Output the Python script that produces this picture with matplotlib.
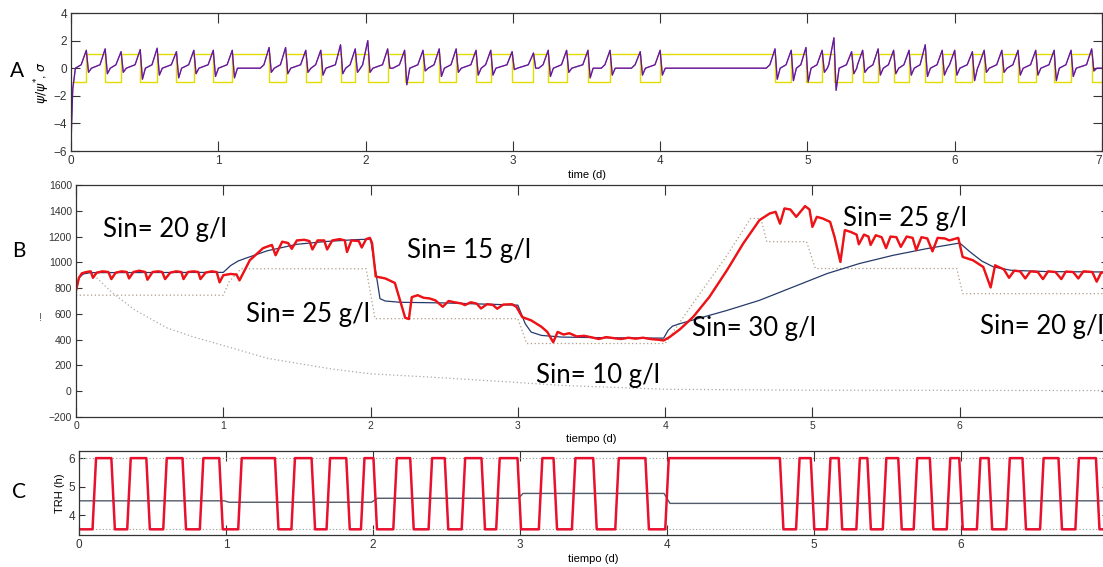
import matplotlib.pyplot as plt
import numpy as np

W, H = 1103, 567

# relay switching instants (d); the state starts low (sigma=-1, TRH=3.5 h)
switch_t = [0.104, 0.232, 0.34, 0.47, 0.585, 0.716, 0.834, 0.966, 1.095, 1.345,
            1.457, 1.594, 1.696, 1.83, 1.93, 2.015, 2.15, 2.265, 2.39, 2.50,
            2.615, 2.75, 2.85, 2.995, 3.14, 3.24, 3.365, 3.51, 3.66, 3.865,
            4.0, 4.78, 4.89, 4.99, 5.10, 5.18, 5.30, 5.375, 5.48, 5.585,
            5.69, 5.80, 5.915, 6.0, 6.12, 6.20, 6.32, 6.43, 6.55, 6.675,
            6.79, 6.93]

# psi/psi* peak at each switch and the trough right after it
psi_peak = [1.3, 1.4, 1.2, 1.35, 1.45, 1.2, 1.3, 1.3, 1.3, 1.5,
            1.5, 1.3, 1.3, 1.7, 1.4, 2.0, 1.4, 1.3, 1.3, 1.4,
            1.4, 1.3, 1.3, 1.2, 1.1, 1.3, 1.3, 1.3, 1.3, 1.2,
            1.3, 1.4, 1.3, 1.5, 1.3, 2.2, 1.2, 1.3, 1.4, 1.3,
            1.3, 1.7, 1.3, 1.3, 1.2, 1.3, 1.3, 1.3, 1.3, 1.3,
            1.3, 1.4]
psi_trough = [-0.3, -0.4, -0.3, -0.8, -0.5, -0.7, -0.4, -0.6, -0.7, -0.3,
              -0.4, -0.3, -0.5, -0.4, -0.3, -0.3, 0.0, -1.2, -0.2, -0.6,
              -0.3, -0.5, -0.5, -0.1, 0.0, -0.6, -0.3, -0.7, -0.5, -0.5,
              -0.5, -0.8, -0.9, -1.0, -0.3, -1.6, -0.4, -0.3, -0.5, -0.4,
              -0.5, -0.6, -0.5, -0.5, -0.9, -0.3, -0.3, -0.5, -0.5, -0.9,
              -0.6, -0.2]
psi_start_t = [0.0, 0.004, 0.012, 0.03]
psi_start_v = [-6.0, -4.0, -1.5, 0.0]

trh_low, trh_high = 3.5, 6.0
trh_mean_t = [0, 0.99, 1.02, 1.99, 2.03, 2.99, 3.02, 3.98, 4.02, 5.99, 6.02, 7.0]
trh_mean_v = [4.50, 4.50, 4.45, 4.45, 4.59, 4.59, 4.76, 4.76, 4.41, 4.41, 4.50, 4.50]

# panel B: measured (red), model (blue), bounds (dotted)
meas_t = [0.0, 0.02, 0.04, 0.07, 0.10, 0.115, 0.14, 0.18, 0.22, 0.24, 0.27, 0.31,
          0.345, 0.36, 0.39, 0.43, 0.47, 0.485, 0.52, 0.56, 0.585, 0.605, 0.64,
          0.68, 0.715, 0.73, 0.76, 0.80, 0.83, 0.845, 0.88, 0.92, 0.955, 0.975,
          1.0, 1.05, 1.09, 1.11, 1.18, 1.27, 1.33, 1.355, 1.40, 1.44, 1.465,
          1.50, 1.55, 1.585, 1.605, 1.64, 1.685, 1.705, 1.74, 1.79, 1.825, 1.84,
          1.87, 1.92, 1.94, 1.97, 1.995, 2.01, 2.035, 2.10, 2.165, 2.20, 2.235,
          2.26, 2.28, 2.32, 2.36, 2.40, 2.44, 2.49, 2.53, 2.57, 2.62, 2.64, 2.68,
          2.72, 2.75, 2.79, 2.83, 2.86, 2.90, 2.96, 2.99, 3.03, 3.09, 3.16, 3.20,
          3.24, 3.27, 3.31, 3.35, 3.40, 3.45, 3.50, 3.55, 3.60, 3.65, 3.70, 3.75,
          3.80, 3.85, 3.90, 3.95, 3.99, 4.03, 4.10, 4.19, 4.30, 4.42, 4.53, 4.64,
          4.71, 4.75, 4.78, 4.81, 4.85, 4.89, 4.95, 4.98, 5.0, 5.03, 5.07, 5.12,
          5.15, 5.19, 5.22, 5.26, 5.30, 5.315, 5.35, 5.38, 5.395, 5.43, 5.47,
          5.50, 5.53, 5.57, 5.60, 5.64, 5.68, 5.705, 5.74, 5.78, 5.815, 5.85,
          5.90, 5.93, 5.99, 6.02, 6.09, 6.16, 6.21, 6.24, 6.30, 6.335, 6.37,
          6.41, 6.445, 6.48, 6.53, 6.565, 6.60, 6.65, 6.69, 6.72, 6.77, 6.805,
          6.84, 6.90, 6.93, 6.96, 7.0]
meas_v = [780, 880, 915, 925, 930, 880, 920, 930, 925, 870, 920, 930,
          925, 875, 925, 935, 925, 865, 925, 930, 925, 870, 920,
          930, 925, 870, 925, 930, 925, 870, 920, 930, 925, 845,
          900, 910, 905, 860, 1016, 1110, 1135, 1055, 1160, 1150, 1105,
          1170, 1175, 1165, 1100, 1170, 1170, 1100, 1170, 1180, 1170, 1080,
          1170, 1165, 1115, 1180, 1190, 1150, 890, 875, 840, 705, 570,
          560, 730, 745, 725, 720, 705, 655, 700, 690, 680, 668, 690,
          680, 642, 675, 670, 640, 672, 675, 655, 575, 550, 500, 460,
          380, 460, 440, 450, 425, 430, 418, 405, 420, 412, 405, 415,
          408, 415, 405, 400, 394, 420, 480, 576, 731, 939, 1146, 1327,
          1379, 1392, 1300, 1418, 1410, 1353, 1436, 1410, 1275, 1353, 1340, 1314,
          1198, 1003, 1250, 1236, 1215, 1140, 1215, 1200, 1135, 1210, 1195,
          1110, 1200, 1195, 1120, 1200, 1190, 1095, 1195, 1185, 1085, 1190,
          1185, 1170, 1190, 1042, 1016, 964, 805, 977, 945, 880, 935,
          930, 875, 930, 925, 870, 930, 925, 870, 928, 925, 875,
          930, 925, 850, 920, 925]

model_t = [0.0, 0.02, 0.05, 0.1, 1.0, 1.05, 1.1, 1.16, 1.3, 1.5, 1.7, 1.9, 2.0,
           2.03, 2.064, 2.10, 2.2, 2.5, 2.8, 3.0, 3.05, 3.09, 3.16, 3.3, 3.6,
           3.99, 4.02, 4.05, 4.10, 4.42, 4.64, 4.87, 5.10, 5.32, 5.55, 5.78,
           6.0, 6.07, 6.15, 6.23, 6.35, 6.6, 7.0]
model_v = [780, 880, 910, 920, 922, 975, 1010, 1035, 1090, 1140, 1162, 1176, 1180,
           964, 718, 700, 690, 685, 675, 668, 524, 459, 433, 420, 415,
           412, 472, 505, 524, 627, 705, 809, 913, 991, 1055, 1107,
           1150, 1081, 1010, 964, 938, 928, 925]

bound_t = [0.0, 1.0, 1.04, 1.12, 1.97, 2.03, 3.0, 3.06, 4.0, 4.2, 4.4, 4.58,
           4.65, 4.69, 4.96, 5.02, 5.98, 6.02, 7.0]
bound_v = [745, 745, 850, 950, 950, 563, 563, 370, 370, 700, 1020, 1340,
           1340, 1160, 1160, 952, 952, 757, 757]

decay_t = [0.14, 0.25, 0.4, 0.62, 0.8, 1.0, 1.3, 1.75, 2.0, 2.4, 2.9, 3.3, 4.0, 5.0, 7.0]
decay_v = [880, 760, 630, 490, 420, 355, 255, 170, 135, 110, 75, 45, 15, 8, 5]

sin_labels = ["Sin= 20 g/l", "Sin= 25 g/l", "Sin= 15 g/l", "Sin= 10 g/l",
              "Sin= 30 g/l", "Sin= 25 g/l", "Sin= 20 g/l"]
sin_t = [0.183, 1.154, 2.247, 3.123, 4.182, 5.207, 6.137]
sin_v = [1197, 537, 1030, 62, 425, 1281, 446]

# derived traces -----------------------------------------------------------
psi_t = list(psi_start_t)
psi_v = list(psi_start_v)
prev = psi_start_t[-1]
for i, t in enumerate(switch_t):
    if t - prev > 0.15:          # long hold: psi stays at zero before rising
        psi_t.append(t - 0.06)
        psi_v.append(0.0)
    psi_t += [t - 0.035, t, t + 0.015, t + 0.035]
    psi_v += [0.25, psi_peak[i], psi_trough[i], 0.0]
    prev = t
psi_t.append(7.0)
psi_v.append(0.0)

sig_t, sig_v = [0.0], [-1.0]
trh_t, trh_v = [0.0], [trh_low]
state = -1
for t in switch_t:
    state = -state
    sig_t += [t, t]
    sig_v += [-state, state]
    lo_hi = (trh_low, trh_high) if state > 0 else (trh_high, trh_low)
    trh_t += [t - 0.012, t + 0.012]
    trh_v += list(lo_hi)
sig_t.append(7.0); sig_v.append(state)
trh_t.append(7.0); trh_v.append(trh_v[-1])

# figure ---------------------------------------------------------------------
plt.rcParams['font.family'] = ['Liberation Sans', 'DejaVu Sans']
fig = plt.figure(figsize=(W / 100, H / 100), dpi=100)
fig.patch.set_facecolor('white')


def px_axes(left, right, top, bottom):
    return fig.add_axes([left / W, 1 - bottom / H, (right - left) / W, (bottom - top) / H])


def matlab_style(ax, fs, ylen):
    ax.tick_params(direction='in', top=True, right=True, labelsize=fs,
                   colors='#333333', width=0.8, pad=3)
    ax.tick_params(axis='x', length=7)
    ax.tick_params(axis='y', length=ylen)
    for s in ax.spines.values():
        s.set_color('#333333')
        s.set_linewidth(0.9)


# A
axA = px_axes(71, 1102, 13, 151)
axA.plot(sig_t, sig_v, color='#e3dc00', lw=1.0)
axA.plot(psi_t, psi_v, color='#c02050', lw=0.9)
axA.plot(psi_t, psi_v, color='#3018c8', lw=0.9, alpha=0.7)
axA.set_xlim(0, 7)
axA.set_ylim(-6, 4)
axA.set_xticks(range(8))
axA.set_yticks([-6, -4, -2, 0, 2, 4])
matlab_style(axA, 8.5, 6.5)
axA.get_xticklabels()[-1].set_horizontalalignment('right')
axA.set_xlabel('time (d)', fontsize=8, labelpad=2)
axA.set_ylabel(r'$\psi/\psi^{*}$, $\sigma$', fontsize=9, labelpad=1)

# B
axB = px_axes(76, 1107, 185, 417)
axB.plot(bound_t, bound_v, color='#b09c88', lw=0.9, ls=(0, (1, 2)))
axB.plot(decay_t, decay_v, color='#a8a8a8', lw=0.9, ls=(0, (1, 2)))
axB.plot([0.0] + meas_t, [300] + meas_v, color='#f0dc00', lw=1.4)
axB.plot(model_t, model_v, color='#253a6a', lw=0.9)
axB.plot(meas_t, meas_v, color='#ee1020', lw=1.7)
axB.set_xlim(0, 7)
axB.set_ylim(-200, 1600)
axB.set_xticks(range(8))
axB.set_xticklabels([str(i) for i in range(7)] + [''])
axB.set_yticks(range(-200, 1601, 200))
matlab_style(axB, 7.5, 4.5)
axB.set_xlabel('tiempo (d)', fontsize=8, labelpad=2)
for lab, t, v in zip(sin_labels, sin_t, sin_v):
    axB.text(t, v, lab, fontsize=18.5, family=['Lato', 'DejaVu Sans'],
             ha='left', va='baseline', color='black')
fig.text(40 / W, 1 - 318 / H, '!', fontsize=8, color='#555555',
         ha='center', va='center', rotation=0)

# C
axC = px_axes(79, 1108, 451, 535)
axC.axhline(trh_high, color='#90a090', lw=0.8, ls=(0, (1, 2)))
axC.axhline(trh_low, color='#90a090', lw=0.8, ls=(0, (1, 2)))
axC.plot(trh_mean_t, trh_mean_v, color='#505a68', lw=1.0)
axC.plot(trh_t, trh_v, color='#e8102e', lw=1.8)
axC.set_xlim(0, 7)
axC.set_ylim(3.3, 6.25)
axC.set_xticks(range(8))
axC.set_xticklabels([str(i) for i in range(7)] + [''])
axC.set_yticks([4, 5, 6])
matlab_style(axC, 8.5, 4.5)
axC.set_xlabel('tiempo (d)', fontsize=8, labelpad=2)
axC.set_ylabel('TRH (h)', fontsize=8, labelpad=2)

# panel letters
for letter, x, y in [('A', 10, 77), ('B', 12, 257), ('C', 12, 498)]:
    fig.text(x / W, 1 - y / H, letter, fontsize=15, family=['Lato', 'DejaVu Sans'],
             ha='left', va='baseline')

fig.savefig('out.png', dpi=100, facecolor='white')
